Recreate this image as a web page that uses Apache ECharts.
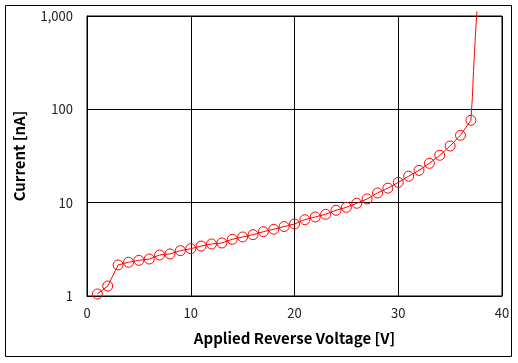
<!DOCTYPE html>
<html>
<head>
<meta charset="utf-8">
<script src="https://cdn.jsdelivr.net/npm/echarts@6/dist/echarts.min.js"></script>
<style>html,body{margin:0;padding:0;background:#fff;}#c{width:518px;height:363px;}</style>
</head>
<body>
<div id="c"></div>
<script>
var voltage = [1,2,3,4,5,6,7,8,9,10,11,12,13,14,15,16,17,18,19,20,21,22,23,24,25,26,27,28,29,30,31,32,33,34,35,36,37];
var current = [1.05,1.28,2.15,2.30,2.41,2.49,2.75,2.82,3.06,3.21,3.43,3.61,3.70,4.05,4.29,4.54,4.89,5.19,5.55,5.91,6.57,7.03,7.51,8.29,8.92,9.85,10.96,12.7,14.3,16.5,19.2,22.2,26.4,32.2,40.5,52.8,76.4];
var tailVoltage = [37,37.15,37.25,37.35,37.45,37.58];
var tailCurrent = [76.4,137,254,399,654,1120];
var xTicks = [0,10,20,30,40];
var yTicks = [1,10,100,1000];

var font = '"Noto Sans CJK KR", "Noto Sans", sans-serif';
var chart = echarts.init(document.getElementById('c'), null, {renderer:'canvas'});
chart.setOption({
  animation:false,
  graphic:[{type:'rect',shape:{x:5.5,y:5.5,width:506,height:351},style:{fill:'none',stroke:'#000',lineWidth:1},z:-1}],
  grid:{left:87,top:16,right:16,bottom:67,show:true,borderColor:'#000',borderWidth:1},
  xAxis:{type:'value',min:0,max:40,interval:10,
    name:'Applied Reverse Voltage [V]',nameLocation:'middle',nameGap:35,
    nameTextStyle:{fontFamily:font,fontSize:15,fontWeight:'bold',color:'#000'},
    axisLine:{show:true,lineStyle:{color:'#000'}},axisTick:{show:false},
    axisLabel:{fontFamily:font,fontSize:13,color:'#222',margin:11,
      formatter:function(v){return xTicks.indexOf(v)>=0?String(v):'';}},
    splitLine:{show:true,lineStyle:{color:'#000',width:1}}},
  yAxis:{type:'log',logBase:10,min:1,max:1000,
    name:'Current [nA]',nameLocation:'middle',nameGap:60,
    nameTextStyle:{fontFamily:font,fontSize:15,fontWeight:'bold',color:'#000'},
    axisLine:{show:true,lineStyle:{color:'#000'}},axisTick:{show:false},minorTick:{show:false},
    axisLabel:{fontFamily:font,fontSize:13,color:'#222',margin:14,
      formatter:function(v){return yTicks.indexOf(Math.round(v))>=0?Math.round(v).toLocaleString('en-US'):'';}},
    splitLine:{show:true,lineStyle:{color:'#000',width:1}}},
  series:[
    {type:'line',data:tailVoltage.map(function(v,i){return [v,tailCurrent[i]];}),
      symbol:'none',clip:false,lineStyle:{color:'#ff0000',width:1},z:3},
    {type:'line',data:voltage.map(function(v,i){return [v,current[i]];}),
      symbol:'circle',symbolSize:10,clip:false,
      lineStyle:{color:'#ff0000',width:1},
      itemStyle:{color:'rgba(0,0,0,0)',borderColor:'#ff0000',borderWidth:1},z:4}
  ]
});
</script>
</body>
</html>
